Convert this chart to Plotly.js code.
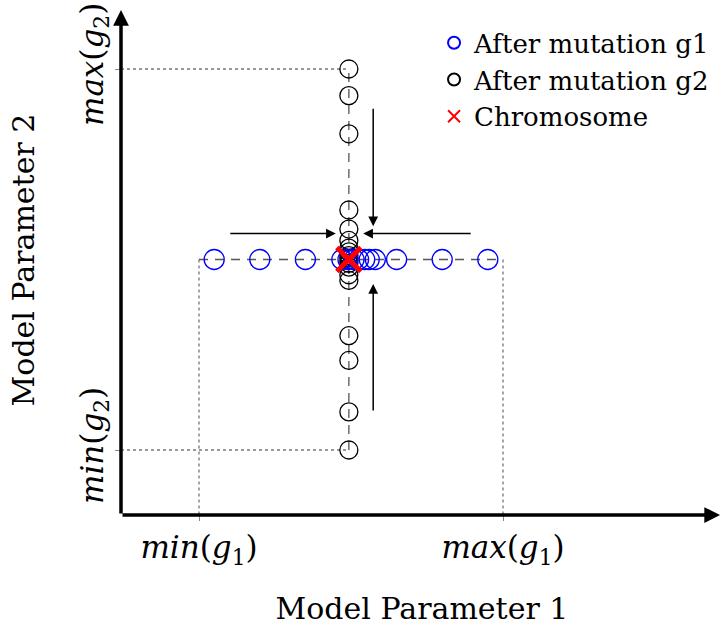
<!DOCTYPE html>
<html>
<head>
<meta charset="utf-8">
<script src="https://cdn.plot.ly/plotly-3.0.1.min.js"></script>
<style>html,body{margin:0;padding:0;background:#fff;}#chart{width:723px;height:626px;}</style>
</head>
<body>
<div id="chart"></div>
<script>
// Parameter bounds (normalised)
const g1Bounds = [0, 1];
const g2Bounds = [0, 1];
// Original chromosome
const chromX = [0.493];
const chromY = [0.5];
// Mutations along g1 (y fixed at chromosome g2)
const g1MutX = [0.05, 0.2, 0.35, 0.47, 0.49, 0.51, 0.525, 0.545, 0.56, 0.58, 0.65, 0.8, 0.95];
// Mutations along g2 (x fixed at chromosome g1)
const g2MutY = [1.0, 0.93, 0.83, 0.63, 0.58, 0.55, 0.53, 0.52, 0.51, 0.5, 0.49, 0.48, 0.46, 0.445, 0.3, 0.235, 0.1, 0.0];
// Tick labels
const xTickText = ['<i>min</i>(<i>g</i><sub>1</sub>)', '<i>max</i>(<i>g</i><sub>1</sub>)'];
const yTickText = ['<i>min</i>(<i>g</i><sub>2</sub>)', '<i>max</i>(<i>g</i><sub>2</sub>)'];
const legendNames = ['After mutation g1', 'After mutation g2', 'Chromosome'];

const xRange = [-0.2566, 1.7237];
const yRange = [-0.1706, 1.168];
const FONT = 'DejaVu Serif, Liberation Serif, serif';

const cx = chromX[0], cy = chromY[0];

const traces = [
  // dotted guide lines
  {x: [xRange[0], cx], y: [g2Bounds[1], g2Bounds[1]], mode: 'lines', line: {color: '#777', width: 1.3, dash: 'dot'}, showlegend: false, hoverinfo: 'skip'},
  {x: [xRange[0], cx], y: [g2Bounds[0], g2Bounds[0]], mode: 'lines', line: {color: '#777', width: 1.3, dash: 'dot'}, showlegend: false, hoverinfo: 'skip'},
  {x: [g1Bounds[0], g1Bounds[0]], y: [cy, yRange[0]], mode: 'lines', line: {color: '#777', width: 1.3, dash: 'dot'}, showlegend: false, hoverinfo: 'skip'},
  {x: [g1Bounds[1], g1Bounds[1]], y: [cy, yRange[0]], mode: 'lines', line: {color: '#777', width: 1.3, dash: 'dot'}, showlegend: false, hoverinfo: 'skip'},
  // dashed mutation ranges
  {x: [g1Bounds[0], g1Bounds[1]], y: [cy, cy], mode: 'lines', line: {color: '#555', width: 1.3, dash: '9px,7px'}, showlegend: false, hoverinfo: 'skip'},
  {x: [cx, cx], y: [g2Bounds[0], g2Bounds[1]], mode: 'lines', line: {color: '#555', width: 1.3, dash: '9px,7px'}, showlegend: false, hoverinfo: 'skip'},
  // g2 mutations (black)
  {x: g2MutY.map(() => cx), y: g2MutY, mode: 'markers', name: legendNames[1], legendrank: 2,
   marker: {symbol: 'circle-open', size: 18, color: '#000', line: {width: 1.3, color: '#000'}}},
  // g1 mutations (blue)
  {x: g1MutX, y: g1MutX.map(() => cy), mode: 'markers', name: legendNames[0], legendrank: 1,
   marker: {symbol: 'circle-open', size: 20, color: '#0000ff', line: {width: 1.3, color: '#0000ff'}}},
  // chromosome
  {x: chromX, y: chromY, mode: 'markers', name: legendNames[2], legendrank: 3,
   marker: {symbol: 'x-thin-open', size: 24, color: '#ff0000', line: {width: 5, color: '#ff0000'}}}
];

const arrowBase = {showarrow: true, arrowhead: 2, arrowsize: 1.3, arrowwidth: 1.5, arrowcolor: '#000', text: '', xref: 'x', yref: 'y'};
const annotations = [
  // axes with arrowheads
  Object.assign({}, arrowBase, {x: 1.714, y: yRange[0], ax: xRange[0], ay: yRange[0], axref: 'x', ayref: 'y', arrowwidth: 3.5, arrowsize: 0.9, arrowhead: 2}),
  Object.assign({}, arrowBase, {x: xRange[0], y: 1.155, ax: xRange[0], ay: yRange[0], axref: 'x', ayref: 'y', arrowwidth: 3.5, arrowsize: 0.9, arrowhead: 2}),
  // convergence arrows
  Object.assign({}, arrowBase, {x: cx - 0.043, y: cy + 0.068, ax: -107, ay: 0}),
  Object.assign({}, arrowBase, {x: cx + 0.047, y: cy + 0.068, ax: 109, ay: 0}),
  Object.assign({}, arrowBase, {x: cx + 0.08, y: cy + 0.087, ax: 0, ay: -119}),
  Object.assign({}, arrowBase, {x: cx + 0.08, y: cy - 0.064, ax: 0, ay: 128})
];

const layout = {
  width: 723, height: 626,
  margin: {l: 121, r: 0, t: 5, b: 111},
  paper_bgcolor: '#fff', plot_bgcolor: '#fff',
  font: {family: FONT, color: '#000', size: 24},
  showlegend: true,
  legend: {x: 0.52, y: 0.972, xanchor: 'left', yanchor: 'top', bgcolor: 'rgba(0,0,0,0)',
           font: {family: FONT, size: 26, color: '#000'}, itemsizing: 'constant', tracegroupgap: 0},
  xaxis: {range: xRange, showgrid: false, zeroline: false, showline: false,
          tickmode: 'array', tickvals: g1Bounds, ticktext: xTickText,
          ticks: 'outside', ticklen: 5, tickcolor: '#888', tickwidth: 1,
          tickfont: {family: FONT, size: 31},
          title: {text: 'Model Parameter 1', font: {family: FONT, size: 30}, standoff: 32}},
  yaxis: {range: yRange, showgrid: false, zeroline: false, showline: false,
          tickmode: 'array', tickvals: g2Bounds, ticktext: yTickText, tickangle: -90,
          ticks: 'outside', ticklen: 5, tickcolor: '#888', tickwidth: 1,
          tickfont: {family: FONT, size: 31},
          title: {text: 'Model Parameter 2', font: {family: FONT, size: 30}, standoff: 30}},
  annotations: annotations
};

Plotly.newPlot('chart', traces, layout, {staticPlot: true, displayModeBar: false});
</script>
</body>
</html>
